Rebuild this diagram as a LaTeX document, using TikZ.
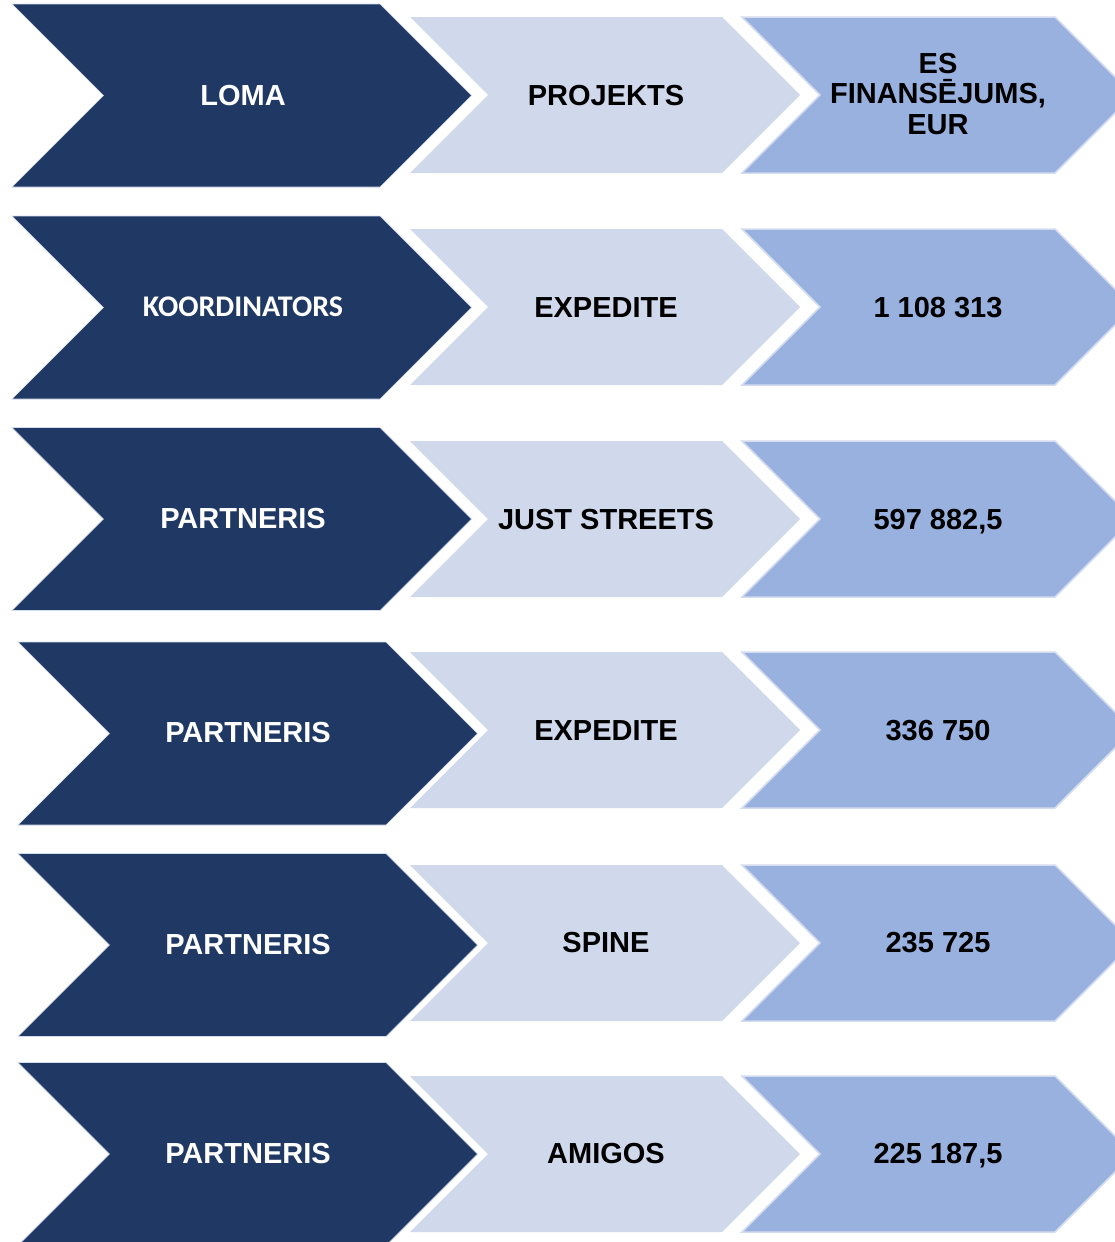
\documentclass[tikz,border=0pt]{standalone}
\usepackage{fontspec}
\setmainfont{Liberation Sans}
\newfontfamily\calfont{Carlito}
\definecolor{darkb}{HTML}{203864}
\definecolor{lightb}{HTML}{D0D8EB}
\definecolor{medb}{HTML}{99B1DF}
\definecolor{edgeb}{HTML}{D3DBEF}
\tikzset{
  chevdark/.style={fill=darkb, draw=edgeb, line width=0.6pt},
  chevlight/.style={fill=lightb},
  chevmed/.style={fill=medb, draw=edgeb, line width=1.5pt},
  lblbase/.style={font=\bfseries\fontsize{29}{30.5}\selectfont, align=center, inner sep=0pt},
  lbl/.style={lblbase, text height=21pt, text depth=0pt},
  lblw/.style={lbl, text=white},
  lblk/.style={lbl, text=black},
}
% #1 style, #2 left x, #3 centre y, #4 straight width, #5 half height
\newcommand\mychev[5]{%
  \path[#1] (#2,#3-#5) -- ++(#4,0) -- ++(#5,#5) -- ++(-#5,#5) -- ++(-#4,0) -- ++(#5,-#5) -- cycle;}
\begin{document}
\begin{tikzpicture}[x=1pt,y=-1pt]
\clip (0,0) rectangle (1115,1242);
\fill[white] (0,0) rectangle (1115,1242);
% dark chevrons
\mychev{chevdark}{12}{95.5}{368}{91.5}
\mychev{chevdark}{12}{307.5}{368}{91.5}
\mychev{chevdark}{12}{519}{368}{91.5}
\mychev{chevdark}{18}{733.5}{368}{91.5}
\mychev{chevdark}{18}{945}{368}{91.5}
\mychev{chevdark}{18}{1154}{368}{91.5}
% light chevrons
\mychev{chevlight}{410}{95}{312}{78}
\mychev{chevlight}{410}{307}{312}{78}
\mychev{chevlight}{410}{519}{312}{78}
\mychev{chevlight}{410}{730}{312}{78}
\mychev{chevlight}{410}{943}{312}{78}
\mychev{chevlight}{410}{1154}{312}{78}
% medium chevrons
\mychev{chevmed}{742}{95}{313}{78}
\mychev{chevmed}{742}{307}{313}{78}
\mychev{chevmed}{742}{519}{313}{78}
\mychev{chevmed}{742}{730}{313}{78}
\mychev{chevmed}{742}{943}{313}{78}
\mychev{chevmed}{742}{1154}{313}{78}
% texts
\node[lblw] (r1a) at (243,95) {LOMA};
\node[lblk] (r1b) at (606,95) {PROJEKTS};
\node[lblbase, text=black] (r1c) at (938,94) {ES\\FINANSĒJUMS,\\EUR};
\node[lblw, font=\calfont\bfseries\fontsize{30}{31}\selectfont, text height=19pt] (r2a) at (243,307) {KOORDINATORS};
\node[lblk] (r2b) at (606,307) {EXPEDITE};
\node[lblk] (r2c) at (938,307) {1 108 313};
\node[lblw] (r3a) at (243,518) {PARTNERIS};
\node[lblk] (r3b) at (606,519) {JUST STREETS};
\node[lblk] (r3c) at (938,519) {597 882,5};
\node[lblw] (r4a) at (248,732) {PARTNERIS};
\node[lblk] (r4b) at (606,730) {EXPEDITE};
\node[lblk] (r4c) at (938,730) {336 750};
\node[lblw] (r5a) at (248,944) {PARTNERIS};
\node[lblk] (r5b) at (606,942) {SPINE};
\node[lblk] (r5c) at (938,942) {235 725};
\node[lblw] (r6a) at (248,1153) {PARTNERIS};
\node[lblk] (r6b) at (606,1153) {AMIGOS};
\node[lblk] (r6c) at (938,1153) {225 187,5};
\end{tikzpicture}
\end{document}
